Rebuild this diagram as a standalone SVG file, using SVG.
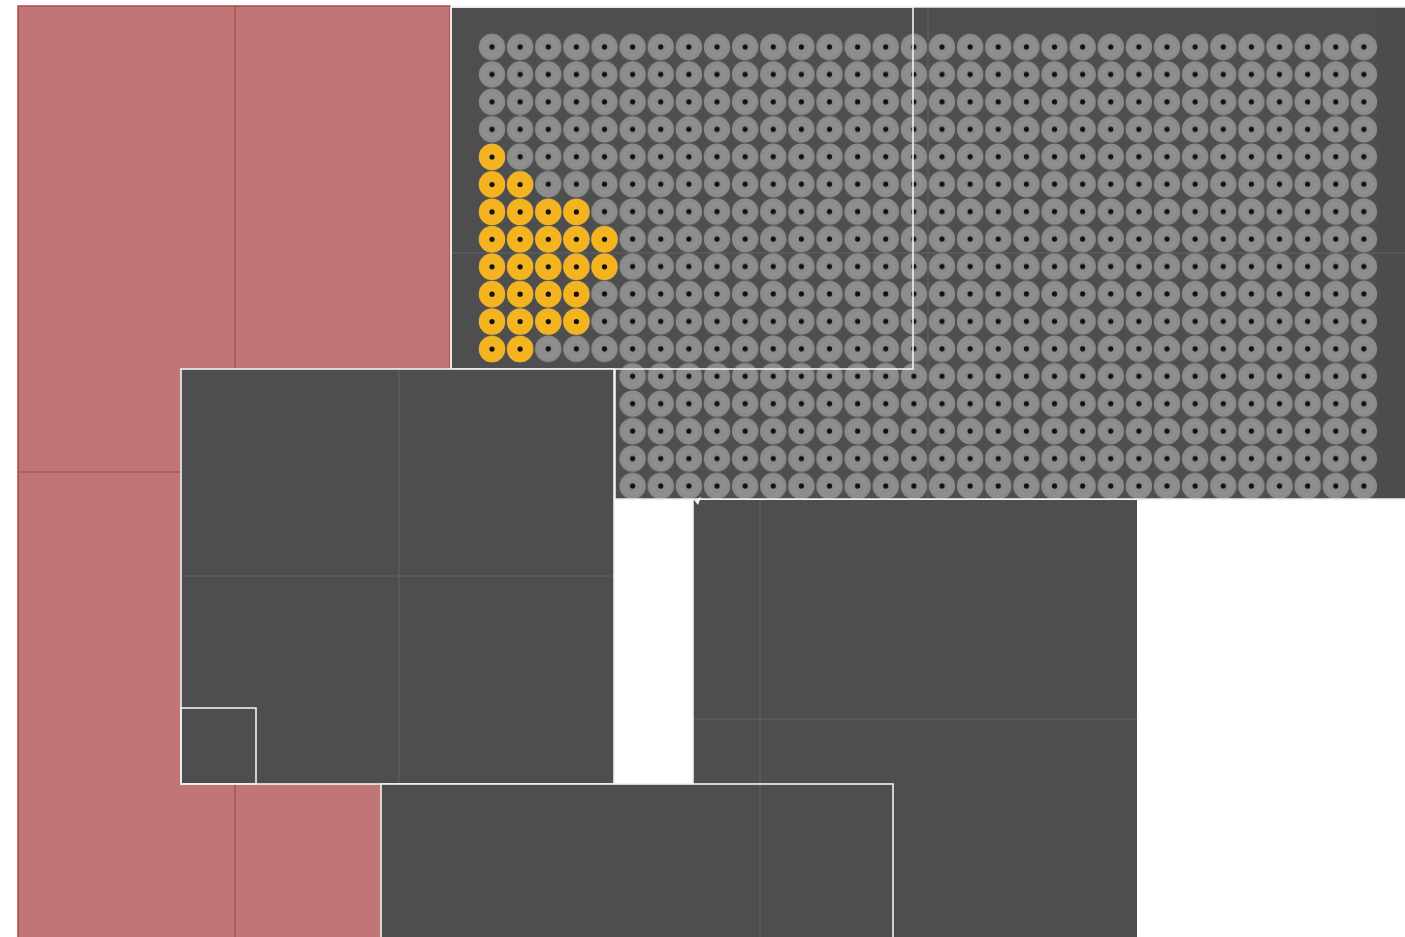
<svg xmlns="http://www.w3.org/2000/svg" width="1405" height="937" viewBox="0 0 1405 937">
<style>
.dark{fill:#4e4e4e}
.wb{fill:none;stroke:#f2f2f2;stroke-width:1.6}
.faint{stroke:#626262;stroke-width:1;fill:none}
.redline{stroke:#a84848;stroke-width:1.2;fill:none}
</style>
<defs>
<pattern id="holes" patternUnits="userSpaceOnUse" x="477.94" y="33.28" width="28.125" height="27.44">
<circle cx="14.06" cy="13.72" r="13.2" fill="#8c8c8c"/>
<circle cx="14.06" cy="13.72" r="8" fill="none" stroke="#909090" stroke-width="2"/>
<circle cx="14.06" cy="13.72" r="2.6" fill="#111"/>
</pattern>
<g id="yc">
<circle r="13.2" fill="#f3b41f"/>
<circle r="2.6" fill="#111"/>
</g>
</defs>
<rect width="1405" height="937" fill="#fff"/>
<g id="red-area">
<rect x="18" y="6" width="432" height="935" fill="#c07676" stroke="#b0474f" stroke-width="1.5"/>
<line class="redline" x1="235" y1="6" x2="235" y2="937"/>
<line class="redline" x1="18" y1="472" x2="181" y2="472"/>
</g>
<g id="top-panel">
<rect class="dark" x="451" y="7" width="954" height="362"/>
<rect class="dark" x="615" y="7" width="790" height="492"/>
<rect x="1378" y="7" width="27" height="492" fill="#4c4c4c"/>
<line class="faint" x1="928" y1="7" x2="928" y2="499"/>
<line class="faint" x1="451" y1="253" x2="1405" y2="253"/>
<rect x="477.94" y="33.28" width="900" height="329.28" fill="url(#holes)"/>
<rect x="618.56" y="362.56" width="759.4" height="137.2" fill="url(#holes)"/>
<path d="M451 7 H1405 M615 369 V499 H1405" fill="none" stroke="#f0f0f0" stroke-width="1.6"/>
<line x1="451" y1="7" x2="451" y2="369" stroke="#f3e4e4" stroke-width="1.5"/>
<rect class="wb" x="451" y="7" width="462" height="362"/>
</g>
<g id="yellow-holes">
<use href="#yc" x="492" y="157"/>
<use href="#yc" x="492" y="184.5"/><use href="#yc" x="520.1" y="184.5"/>
<use href="#yc" x="492" y="211.9"/><use href="#yc" x="520.1" y="211.9"/><use href="#yc" x="548.3" y="211.9"/><use href="#yc" x="576.4" y="211.9"/>
<use href="#yc" x="492" y="239.3"/><use href="#yc" x="520.1" y="239.3"/><use href="#yc" x="548.3" y="239.3"/><use href="#yc" x="576.4" y="239.3"/><use href="#yc" x="604.5" y="239.3"/>
<use href="#yc" x="492" y="266.8"/><use href="#yc" x="520.1" y="266.8"/><use href="#yc" x="548.3" y="266.8"/><use href="#yc" x="576.4" y="266.8"/><use href="#yc" x="604.5" y="266.8"/>
<use href="#yc" x="492" y="294.2"/><use href="#yc" x="520.1" y="294.2"/><use href="#yc" x="548.3" y="294.2"/><use href="#yc" x="576.4" y="294.2"/>
<use href="#yc" x="492" y="321.6"/><use href="#yc" x="520.1" y="321.6"/><use href="#yc" x="548.3" y="321.6"/><use href="#yc" x="576.4" y="321.6"/>
<use href="#yc" x="492" y="349.1"/><use href="#yc" x="520.1" y="349.1"/>
</g>
<g id="right-panel">
<rect class="dark" x="693" y="500" width="444" height="437"/>
<line class="faint" x1="760" y1="500" x2="760" y2="937"/>
<line class="faint" x1="693" y1="719" x2="1137" y2="719"/>
<line x1="693" y1="500" x2="693" y2="784" stroke="#f0f0f0" stroke-width="1.6"/>
<path d="M694 500 L701 497 L698 505 Z" fill="#f4f4f4"/>
</g>
<g id="left-panel">
<rect class="dark" x="181" y="369" width="433" height="415"/>
<line class="faint" x1="399" y1="369" x2="399" y2="784"/>
<line class="faint" x1="181" y1="576" x2="614" y2="576"/>
<rect class="wb" x="181" y="369" width="433" height="415"/>
<rect class="wb" x="181" y="708" width="75" height="76"/>
</g>
<g id="bottom-panel">
<rect class="dark" x="381" y="784" width="512" height="160"/>
<line class="faint" x1="760" y1="784" x2="760" y2="937"/>
<rect class="wb" x="381" y="784" width="512" height="160"/>
</g>
</svg>
